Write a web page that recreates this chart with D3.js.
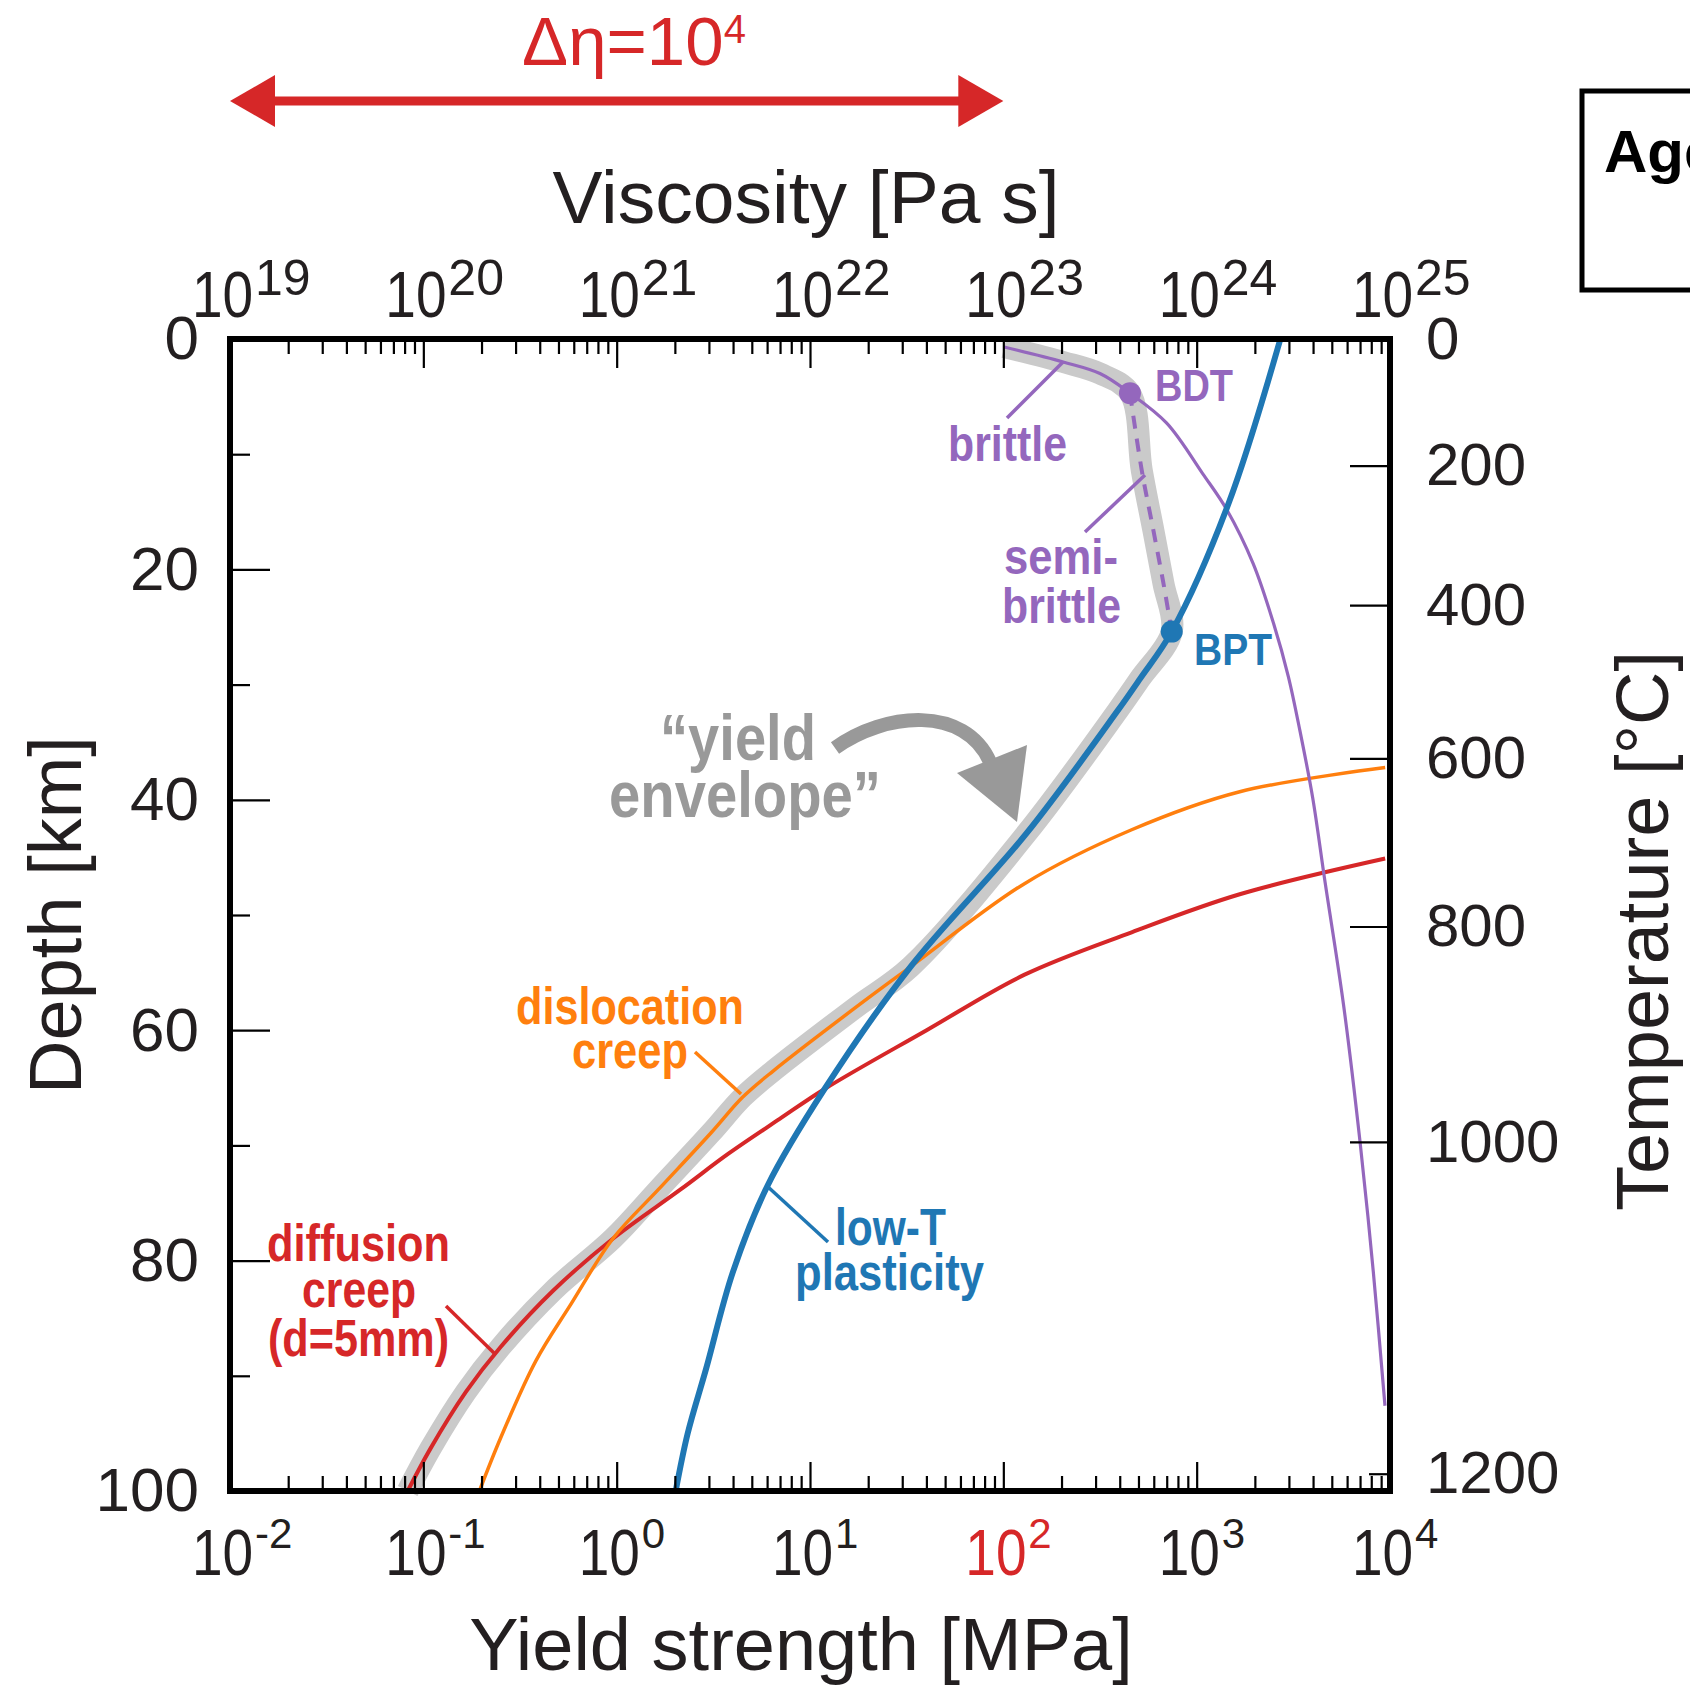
<!DOCTYPE html>
<html>
<head>
<meta charset="utf-8">
<script src="https://cdn.jsdelivr.net/npm/d3@7"></script>
<style>
  body { margin: 0; background: #fff; }
  text { font-family: "Liberation Sans", Arial, Helvetica, sans-serif; }
</style>
</head>
<body>
<div id="chart"></div>
<script>
'use strict';

// ---- data: depth [km] vs yield strength [MPa] ----
const brittleDepth = [0.7, 2.0, 3.0, 4.7, 7.3, 11.7, 14.8, 19.5, 24.7, 29.3, 34.0, 39.8, 47.1, 57.7, 69.7, 81.0, 92.6];
const brittleMPa   = [101, 204, 316, 452, 700, 1076, 1430, 1960, 2500, 2980, 3420, 3980, 4610, 5740, 7000, 8200, 9420];

const semiDepth = [4.7, 11.4, 16.6, 21.2, 25.4];
const semiMPa   = [452, 520, 597, 673, 743];

const plastDepth = [0, 14.3, 25.4, 29.5, 32.3, 42.9, 54.5, 65.1, 73.5, 81.0, 89.4, 95.0, 100];
const plastMPa   = [2710, 1460, 743, 509, 389, 132, 33.1, 11.9, 6.03, 3.99, 2.90, 2.33, 2.02];

const dislDepth = [37.2, 39.3, 42.6, 47.3, 54.5, 58.0, 63.5, 65.8, 68.9, 73.8, 78.1, 83.8, 88.7, 95.4, 100];
const dislMPa   = [9440, 1670, 461, 128, 33.1, 17.3, 6.49, 4.49, 3.08, 1.65, 0.955, 0.579, 0.382, 0.251, 0.195];

const diffDepth = [45.1, 48.2, 51.5, 55.2, 60.0, 65.1, 67.7, 70.7, 73.8, 78.1, 82.6, 87.5, 91.4, 96.3, 100];
const diffMPa   = [9440, 1670, 461, 128, 40.1, 11.9, 6.97, 3.80, 2.15, 0.955, 0.470, 0.251, 0.166, 0.109, 0.083];

// transitions
const bdt = {depth: 4.7, mpa: 452};
const bpt = {depth: 25.4, mpa: 743};
const crossDisl = {depth: 54.5, mpa: 33.1};
const crossDiff = {depth: 78.1, mpa: 0.955};

// axes
const depthMajor = [0, 20, 40, 60, 80, 100];
const depthMinor = [10, 30, 50, 70, 90];
const strengthExp = [-2, -1, 0, 1, 2, 3, 4];
const viscExp = [19, 20, 21, 22, 23, 24, 25];
const tempTicks = [0, 200, 400, 600, 800, 1000, 1200];
const tempDepth = [0, 11.0, 23.1, 36.4, 51.0, 69.7, 98.5];
const etaRange = [1e19, 1e23];

const col = {
  brittle: '#9467bd', plast: '#1f77b4', disl: '#ff7f0e', diff: '#d62728',
  env: '#cacaca', envText: '#999999', ink: '#231f20'
};

// ---- layout ----
const W = 1690, H = 1686;
const plot = {left: 230, right: 1390, top: 339, bottom: 1491};

const x = d3.scaleLog().domain([1e-2, 1e4]).range([plot.left, plot.right]);
const xv = d3.scaleLog().domain([1e19, 1e25]).range([plot.left, plot.right]);
const y = d3.scaleLinear().domain([0, 100]).range([plot.top, plot.bottom]);

const svg = d3.select('#chart').append('svg')
  .attr('width', W).attr('height', H).style('display', 'block');
svg.append('rect').attr('width', W).attr('height', H).attr('fill', '#fff');

const pts = (ds, ss) => ds.map((d, i) => ({d: d, s: ss[i]}));
const line = d3.line().x(p => x(p.s)).y(p => y(p.d)).curve(d3.curveCatmullRom.alpha(0.5));

// yield envelope built from the weakest branch at each depth
const envPts = [
  ...pts(brittleDepth, brittleMPa).filter(p => p.d <= bdt.depth),
  ...pts(semiDepth, semiMPa).slice(1),
  ...pts(plastDepth, plastMPa).filter(p => p.d > bpt.depth && p.d <= crossDisl.depth),
  ...pts(dislDepth, dislMPa).filter(p => p.d > crossDisl.depth && p.d <= crossDiff.depth),
  ...pts(diffDepth, diffMPa).filter(p => p.d > crossDiff.depth)
];

svg.append('path').attr('d', line(envPts))
  .attr('fill', 'none').attr('stroke', col.env).attr('stroke-width', 22)
  .attr('stroke-linejoin', 'round');

// curves
svg.append('path').attr('d', line(pts(diffDepth, diffMPa)))
  .attr('fill', 'none').attr('stroke', col.diff).attr('stroke-width', 4);
svg.append('path').attr('d', line(pts(dislDepth, dislMPa)))
  .attr('fill', 'none').attr('stroke', col.disl).attr('stroke-width', 3.5);
svg.append('path').attr('d', line(pts(brittleDepth, brittleMPa)))
  .attr('fill', 'none').attr('stroke', col.brittle).attr('stroke-width', 3.2);
svg.append('path').attr('d', line(pts(semiDepth, semiMPa)))
  .attr('fill', 'none').attr('stroke', col.brittle).attr('stroke-width', 4)
  .attr('stroke-dasharray', '13,10');
svg.append('path').attr('d', line(pts(plastDepth, plastMPa)))
  .attr('fill', 'none').attr('stroke', col.plast).attr('stroke-width', 6);

svg.append('circle').attr('cx', x(bdt.mpa)).attr('cy', y(bdt.depth)).attr('r', 11).attr('fill', col.brittle);
svg.append('circle').attr('cx', x(bpt.mpa)).attr('cy', y(bpt.depth)).attr('r', 11).attr('fill', col.plast);

// ---- ticks ----
const isDecade = v => Math.abs(Math.log10(v) - Math.round(Math.log10(v))) < 1e-6;
const tidy = g => {
  g.select('.domain').remove();
  g.selectAll('line').attr('stroke-width', 2.2);
};

svg.append('g').attr('transform', `translate(0,${plot.bottom})`)
  .call(d3.axisTop(x).tickValues(x.ticks().filter(v => !isDecade(v))).tickSize(15).tickFormat(''))
  .call(tidy);
svg.append('g').attr('transform', `translate(0,${plot.bottom})`)
  .call(d3.axisTop(x).tickValues(strengthExp.map(e => Math.pow(10, e))).tickSize(29).tickFormat(''))
  .call(tidy);
svg.append('g').attr('transform', `translate(0,${plot.top})`)
  .call(d3.axisBottom(xv).tickValues(xv.ticks().filter(v => !isDecade(v))).tickSize(15).tickFormat(''))
  .call(tidy);
svg.append('g').attr('transform', `translate(0,${plot.top})`)
  .call(d3.axisBottom(xv).tickValues(viscExp.map(e => Math.pow(10, e))).tickSize(29).tickFormat(''))
  .call(tidy);

// depth axis
svg.append('g').attr('transform', `translate(${plot.left},0)`)
  .call(d3.axisLeft(y).tickValues(depthMinor).tickSizeInner(-20).tickSizeOuter(0).tickFormat(''))
  .call(tidy);
const leftAx = svg.append('g').attr('transform', `translate(${plot.left},0)`)
  .call(d3.axisLeft(y).tickValues(depthMajor).tickSizeInner(-40).tickSizeOuter(0).tickPadding(31))
  .call(tidy);
leftAx.attr('font-size', 62).attr('font-family', '"Liberation Sans", Arial, sans-serif');
leftAx.selectAll('text').attr('fill', col.ink);

// temperature axis (non-linear in depth)
const yT = d3.scaleLinear().domain(tempTicks).range(tempDepth.map(d => y(d)));
const rightAx = svg.append('g').attr('transform', `translate(${plot.right},0)`)
  .call(d3.axisRight(yT).tickValues(tempTicks).tickFormat(d3.format('d'))
    .tickSizeInner(-40).tickSizeOuter(0).tickPadding(36))
  .call(tidy);
rightAx.attr('font-size', 60).attr('font-family', '"DejaVu Sans", sans-serif');
rightAx.selectAll('text').attr('fill', col.ink);
rightAx.selectAll('.tick').filter(d => d === 1200).select('line').attr('x2', -21);

// power-of-ten labels: condensed "10" plus a separate exponent
function powLabel(xpos, ypos, exp, sup, raise, fill) {
  const g = svg.append('g').attr('fill', fill);
  g.append('text')
    .attr('transform', `translate(${xpos},${ypos}) scale(0.86,1)`)
    .attr('font-size', 64).text('10');
  g.append('text')
    .attr('x', xpos + 63).attr('y', ypos - raise)
    .attr('font-size', sup).text(exp);
}
strengthExp.forEach(e => powLabel(x(Math.pow(10, e)) - 38, 1575, e, 42, 27, e === 2 ? col.diff : col.ink));
viscExp.forEach(e => powLabel(xv(Math.pow(10, e)) - 38, 317, e, 50, 22, col.ink));

// frame
svg.append('rect')
  .attr('x', plot.left).attr('y', plot.top)
  .attr('width', plot.right - plot.left).attr('height', plot.bottom - plot.top)
  .attr('fill', 'none').attr('stroke', '#000').attr('stroke-width', 6);

// axis titles
svg.append('text').attr('x', 806).attr('y', 223).attr('text-anchor', 'middle')
  .attr('font-size', 75).attr('fill', col.ink).text('Viscosity [Pa s]');
svg.append('text').attr('x', 801).attr('y', 1670).attr('text-anchor', 'middle')
  .attr('font-size', 74).attr('fill', col.ink).text('Yield strength [MPa]');
svg.append('text').attr('transform', `translate(81,${(plot.top + plot.bottom) / 2}) rotate(-90)`)
  .attr('text-anchor', 'middle').attr('font-size', 74).attr('fill', col.ink).text('Depth [km]');
svg.append('text').attr('transform', 'translate(1668,931) rotate(-90)')
  .attr('text-anchor', 'middle').attr('font-size', 74).attr('fill', col.ink).text('Temperature [°C]');

// viscosity contrast arrow
const ay = 101, head = 45, half = 26;
const ax0 = xv(etaRange[0]), ax1 = xv(etaRange[1]);
svg.append('line').attr('x1', ax0 + head - 2).attr('x2', ax1 - head + 2)
  .attr('y1', ay).attr('y2', ay).attr('stroke', col.diff).attr('stroke-width', 9);
svg.append('path').attr('fill', col.diff)
  .attr('d', `M${ax0},${ay}L${ax0 + head},${ay - half}L${ax0 + head},${ay + half}Z`);
svg.append('path').attr('fill', col.diff)
  .attr('d', `M${ax1},${ay}L${ax1 - head},${ay - half}L${ax1 - head},${ay + half}Z`);
const eta = svg.append('text').attr('x', 634).attr('y', 65).attr('text-anchor', 'middle')
  .attr('font-size', 69).attr('fill', col.diff);
eta.append('tspan').text('Δη=10');
eta.append('tspan').attr('dy', -22).attr('font-size', 40).text('4');

// annotations
function note(txt, x0, y0, size, len, color) {
  svg.append('text').attr('x', x0).attr('y', y0)
    .attr('font-size', size).attr('font-weight', 'bold').attr('fill', color)
    .attr('textLength', len).attr('lengthAdjust', 'spacingAndGlyphs').text(txt);
}
function leader(x1, y1, x2, y2, color) {
  svg.append('line').attr('x1', x1).attr('y1', y1).attr('x2', x2).attr('y2', y2)
    .attr('stroke', color).attr('stroke-width', 3.5);
}

note('brittle', 948, 461, 50, 119, col.brittle);
leader(1007, 418, 1063, 362, col.brittle);
note('BDT', 1155, 401, 44, 78, col.brittle);
note('semi-', 1004, 574, 50, 114, col.brittle);
note('brittle', 1002, 623, 50, 119, col.brittle);
leader(1085, 532, 1145, 475, col.brittle);
note('BPT', 1194, 665, 44, 78, col.plast);

note('\u201Cyield', 660, 760, 64, 156, col.envText);
note('envelope\u201D', 609, 817, 64, 272, col.envText);
svg.append('path')
  .attr('d', 'M835,748 C885,712 965,705 990,762')
  .attr('fill', 'none').attr('stroke', col.envText).attr('stroke-width', 14);
svg.append('path').attr('fill', col.envText)
  .attr('d', 'M957,773 L1027,745 L1017,822 Z');

note('dislocation', 516, 1024, 52, 228, col.disl);
note('creep', 572, 1068, 52, 116, col.disl);
leader(695, 1052, 741, 1094, col.disl);

note('diffusion', 267, 1261, 52, 183, col.diff);
note('creep', 302, 1307, 52, 114, col.diff);
note('(d=5mm)', 268, 1356, 52, 181, col.diff);
leader(446, 1306, 494, 1353, col.diff);

note('low-T', 835, 1245, 52, 111, col.plast);
note('plasticity', 795, 1290, 52, 189, col.plast);
leader(767, 1186, 828, 1242, col.plast);

// partially visible panel box at top right
svg.append('rect').attr('x', 1582).attr('y', 91).attr('width', 300).attr('height', 199)
  .attr('fill', 'none').attr('stroke', '#000').attr('stroke-width', 5);
svg.append('text').attr('x', 1604).attr('y', 172).attr('font-size', 60)
  .attr('font-weight', 'bold').attr('fill', '#000').text('Age');
</script>
</body>
</html>
